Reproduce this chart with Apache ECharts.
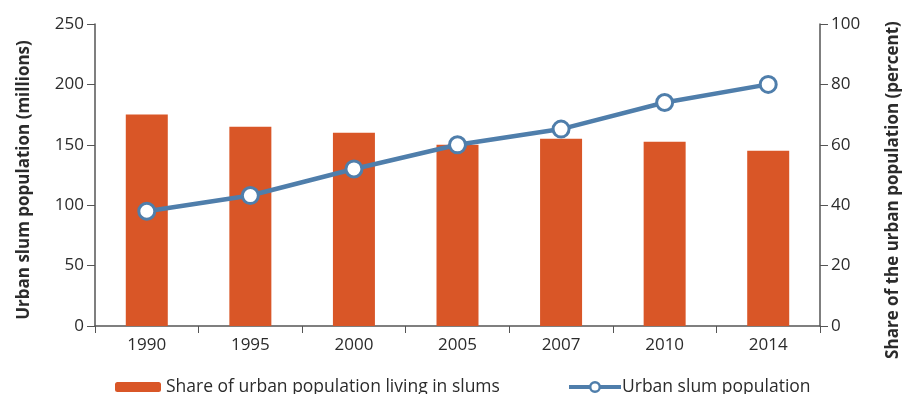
<!DOCTYPE html>
<html>
<head>
<meta charset="utf-8">
<script src="https://cdn.jsdelivr.net/npm/echarts@6/dist/echarts.min.js"></script>
<style>
  html, body { margin: 0; padding: 0; background: #fff; }
  #chart { width: 903px; height: 394px; }
</style>
</head>
<body>
<div id="chart"></div>
<script>
const years = ['1990', '1995', '2000', '2005', '2007', '2010', '2014']
// share of urban population living in slums (percent, right axis)
const slumShare = [70, 66, 64, 60, 62, 61, 58]
// urban slum population (millions, left axis)
const slumPop = [95, 108, 130, 150, 163, 185, 200]

const textColor = '#2b2b2b'
const axisColor = '#555'
const font = '"Open Sans", "Noto Sans", sans-serif'

const myChart = echarts.init(document.getElementById('chart'))
myChart.setOption({
  animation: false,
  textStyle: { fontFamily: font },
  grid: { left: 95, right: 83, top: 24, bottom: 68, outerBoundsMode: 'none', containLabel: false },
  legend: [
    {
      left: 110, top: 373,
      itemWidth: 46, itemHeight: 10, itemGap: 0,
      textStyle: { fontSize: 17.5, color: textColor, fontFamily: font, padding: [0, 0, 0, 0] },
      data: ['Share of urban population living in slums']
    },
    {
      left: 562, top: 373,
      itemWidth: 52, itemHeight: 12,
      lineStyle: { width: 4 },
      itemStyle: { borderWidth: 2.5 },
      textStyle: { fontSize: 17.5, color: textColor, fontFamily: font, padding: [0, 0, 0, -4] },
      data: ['Urban slum population']
    }
  ],
  xAxis: {
    type: 'category',
    data: years,
    axisLine: { lineStyle: { color: axisColor, width: 1.5 } },
    axisTick: { show: true, length: 7, lineStyle: { color: axisColor } },
    axisLabel: { fontSize: 17, color: textColor, margin: 11 }
  },
  yAxis: [
    {
      type: 'value',
      min: 0, max: 250, interval: 50,
      name: 'Urban slum population (millions)',
      nameLocation: 'middle',
      nameGap: 62,
      nameTextStyle: { fontSize: 17, fontWeight: 'bold', color: textColor, padding: [0, 10, 0, 0] },
      axisLine: { show: true, lineStyle: { color: axisColor, width: 1.5 } },
      axisTick: { show: true, length: 8, lineStyle: { color: axisColor } },
      axisLabel: { fontSize: 17, color: textColor, margin: 11 },
      splitLine: { show: false }
    },
    {
      type: 'value',
      min: 0, max: 100, interval: 20,
      name: 'Share of the urban population (percent)',
      nameLocation: 'middle',
      nameGap: 65,
      nameTextStyle: { fontSize: 17, fontWeight: 'bold', color: textColor, padding: [0, 30, 0, 0] },
      axisLine: { show: true, lineStyle: { color: axisColor, width: 1.5 } },
      axisTick: { show: true, length: 8, lineStyle: { color: axisColor } },
      axisLabel: { fontSize: 17, color: textColor, margin: 11 },
      splitLine: { show: false }
    }
  ],
  series: [
    {
      name: 'Share of urban population living in slums',
      type: 'bar',
      yAxisIndex: 1,
      data: slumShare,
      barWidth: 42,
      itemStyle: { color: '#d95627' }
    },
    {
      name: 'Urban slum population',
      type: 'line',
      yAxisIndex: 0,
      data: slumPop,
      symbol: 'circle',
      symbolSize: 16,
      lineStyle: { color: '#4f7eab', width: 4.5 },
      itemStyle: { color: '#fff', borderColor: '#4f7eab', borderWidth: 3 }
    }
  ]
})
window.addEventListener('resize', () => {
  myChart.resize()
})
</script>
</body>
</html>
